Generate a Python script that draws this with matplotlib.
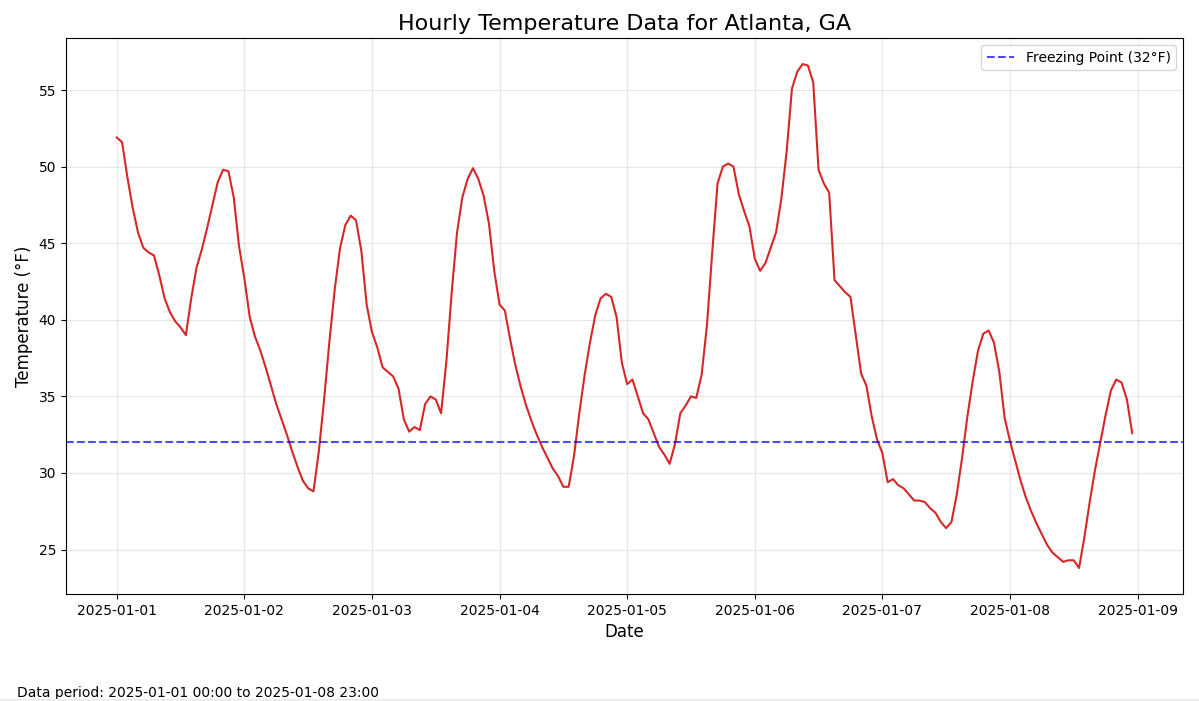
import numpy as np
import pandas as pd
import matplotlib
matplotlib.use("Agg")
import matplotlib.pyplot as plt
import matplotlib.dates as mdates
from matplotlib.patches import Rectangle

# hourly temps (°F), one list per day
day1 = [51.9, 51.6, 49.3, 47.3, 45.7, 44.7, 44.4, 44.2, 42.9, 41.4, 40.5, 39.9,
        39.5, 39.0, 41.4, 43.4, 44.6, 46.0, 47.5, 49.0, 49.8, 49.7, 48.0, 44.8]
day2 = [42.7, 40.2, 38.9, 38.0, 36.9, 35.7, 34.5, 33.5, 32.5, 31.4, 30.4, 29.5,
        29.0, 28.8, 31.4, 34.8, 38.6, 42.0, 44.7, 46.2, 46.8, 46.5, 44.5, 41.0]
day3 = [39.2, 38.2, 36.9, 36.6, 36.3, 35.5, 33.5, 32.7, 33.0, 32.8, 34.5, 35.0,
        34.8, 33.9, 37.3, 41.8, 45.7, 48.0, 49.2, 49.9, 49.2, 48.1, 46.3, 43.2]
day4 = [41.0, 40.6, 38.7, 37.0, 35.6, 34.4, 33.4, 32.5, 31.7, 31.0, 30.3, 29.8,
        29.1, 29.1, 31.1, 33.9, 36.4, 38.5, 40.3, 41.4, 41.7, 41.5, 40.2, 37.2]
day5 = [35.8, 36.1, 35.0, 33.9, 33.5, 32.6, 31.7, 31.2, 30.6, 31.9, 33.9, 34.4,
        35.0, 34.9, 36.4, 39.6, 44.4, 48.9, 50.0, 50.2, 50.0, 48.2, 47.1, 46.1]
day6 = [44.0, 43.2, 43.7, 44.7, 45.7, 47.9, 51.0, 55.1, 56.2, 56.7, 56.6, 55.5,
        49.8, 48.9, 48.3, 42.6, 42.2, 41.8, 41.5, 39.0, 36.5, 35.7, 33.7, 32.2]
day7 = [31.3, 29.4, 29.6, 29.2, 29.0, 28.6, 28.2, 28.2, 28.1, 27.7, 27.4, 26.8,
        26.4, 26.8, 28.6, 31.0, 33.7, 36.0, 38.0, 39.1, 39.3, 38.5, 36.6, 33.6]
day8 = [32.1, 30.8, 29.5, 28.4, 27.5, 26.7, 26.0, 25.3, 24.8, 24.5, 24.2, 24.3,
        24.3, 23.8, 25.8, 28.1, 30.2, 32.0, 33.8, 35.4, 36.1, 35.9, 34.8, 32.6]

temps = day1 + day2 + day3 + day4 + day5 + day6 + day7 + day8
times = pd.date_range("2025-01-01 00:00", periods=len(temps), freq="h")
freezing = 32

fig = plt.figure(figsize=(11.99, 7.01), dpi=100)
ax = fig.add_axes([66 / 1199, 1 - 594 / 701, (1183 - 66) / 1199, (594 - 38) / 701])

ax.plot(times, temps, color="#d62728", linewidth=1.5)
ax.axhline(freezing, color="blue", linestyle="--", alpha=0.7, linewidth=1.5,
           label="Freezing Point (32°F)")

ax.set_title("Hourly Temperature Data for Atlanta, GA", fontsize=16)
ax.set_xlabel("Date", fontsize=12)
ax.set_ylabel("Temperature (°F)", fontsize=12)
ax.grid(True, alpha=0.3)
ax.legend(loc="upper right")
ax.xaxis.set_major_locator(mdates.DayLocator())
ax.xaxis.set_major_formatter(mdates.DateFormatter("%Y-%m-%d"))
ax.set_yticks([25, 30, 35, 40, 45, 50, 55])
ax.set_ylim(22.1, 58.4)

fig.text(17 / 1199, 4 / 701, "Data period: 2025-01-01 00:00 to 2025-01-08 23:00",
         fontsize=10, va="baseline")
fig.patches.append(Rectangle((0, 0), 1, 2.5 / 701, transform=fig.transFigure,
                             color="#eeeeee", zorder=5))

fig.savefig("out.png", dpi=100)
